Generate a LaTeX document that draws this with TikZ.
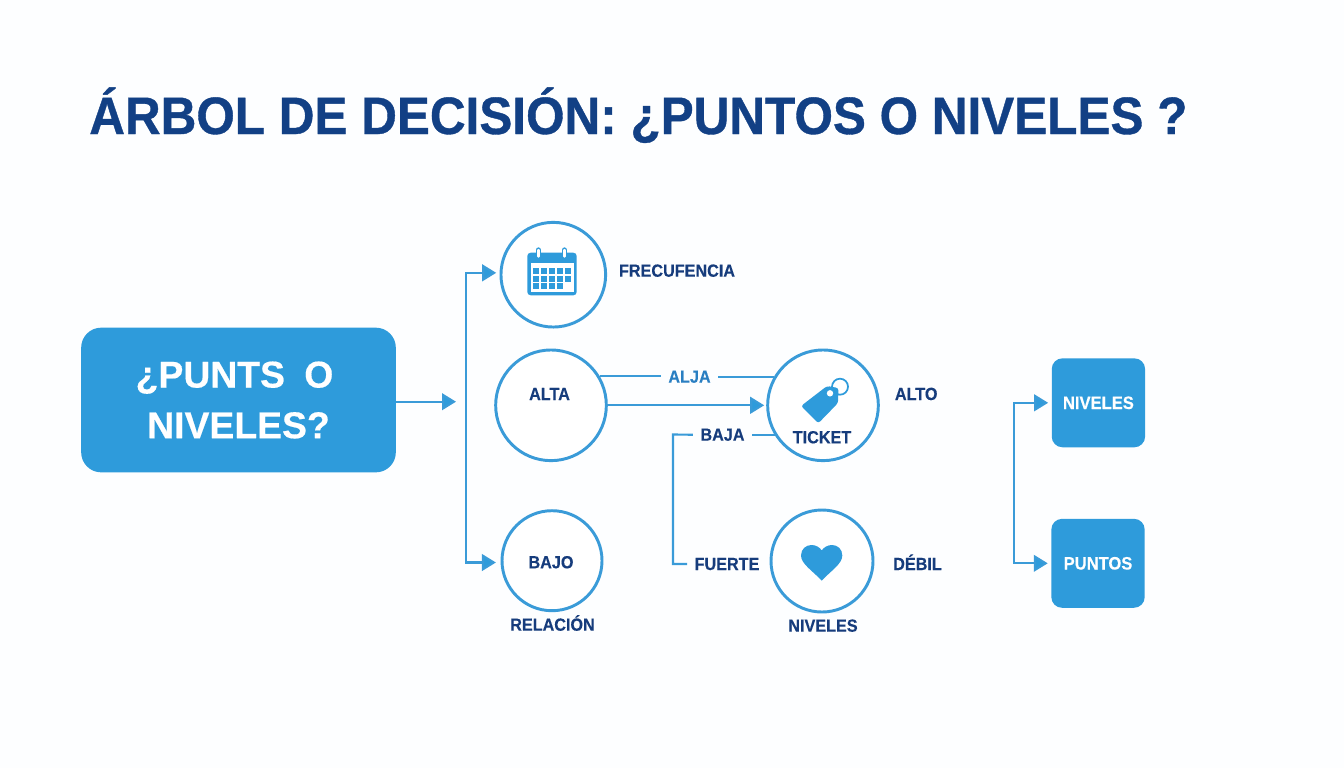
\documentclass[tikz,border=0pt]{standalone}
\usepackage{fontspec}
\setmainfont{Liberation Sans}
\newfontfamily\labfont[FakeStretch=0.92,BoldFeatures={FakeBold=0.25}]{Liberation Sans}
\newfontfamily\titlefont[FakeStretch=0.939,BoldFeatures={FakeBold=0.7}]{Liberation Sans}
\newfontfamily\mainfont[FakeStretch=1.0,BoldFeatures={FakeBold=0.4}]{Liberation Sans}
\usetikzlibrary{arrows.meta}
\definecolor{bluefill}{HTML}{2E9BDB}
\definecolor{blueline}{HTML}{3A9BD8}
\definecolor{navy}{HTML}{163C7C}
\definecolor{titleblue}{HTML}{124085}
\definecolor{midblue}{HTML}{2A7FC2}
\definecolor{paper}{HTML}{FDFEFF}
\tikzset{
  ring/.style={circle,draw=blueline,line width=2.2pt,fill=white,inner sep=0pt},
  lab/.style={font=\labfont\bfseries\fontsize{13.2}{15}\selectfont,text=navy,inner sep=0pt},
  gaplab/.style={lab,inner xsep=5.5pt},
  boxlab/.style={rectangle,rounded corners=8pt,fill=bluefill,inner sep=0pt,
    minimum width=70pt,minimum height=66.7pt,text=white,font=\labfont\bfseries\fontsize{13.5}{15}\selectfont},
  conn/.style={draw=blueline,line width=1.6pt},
  arr/.style={conn,-{Triangle[length=10.5pt,width=12.5pt,fill=bluefill]}},
  icon/.style={fill=bluefill,draw=none}
}
\begin{document}
\begin{tikzpicture}[x=0.75pt,y=-0.75pt]
\useasboundingbox (0,0) rectangle (1344,768);
\fill[paper] (0,0) rectangle (1344,768);

% title
\node[anchor=base west,inner sep=0pt,text=titleblue,font=\titlefont\bfseries\fontsize{39.5}{44}\selectfont] (title) at (89,134) {ÁRBOL DE DECISIÓN: ¿PUNTOS O NIVELES ?};

% main box
\node[rectangle,rounded corners=15pt,fill=bluefill,inner sep=0pt,minimum width=236pt,minimum height=108.5pt,
  text=white,align=center,font=\mainfont\bfseries\fontsize{28}{38}\selectfont] (main) at (238.5,400)
  {¿PUNTS\hspace{6.7pt} O\rule{6pt}{0pt}\\NIVELES?};

% circles
\node[ring,minimum size=78.5pt] (cal) at (553.3,274.7) {};
\node[ring,minimum size=83pt] (alta) at (551,405.3) {};
\node[ring,minimum size=75pt] (bajo) at (552,560.7) {};
\node[ring,minimum size=83pt] (tick) at (823,405.3) {};
\node[ring,minimum size=76.5pt] (cora) at (822,561) {};

% calendar icon
\fill[icon,rounded corners=2.5pt] (527.3,252.7) rectangle (576.7,295.3);
\fill[white] (530.5,262.7) rectangle (573.5,292);
\foreach \cx in {533,541,549,557,565.2}
  \foreach \cy in {268.4,276}
    \fill[icon] (\cx,\cy) rectangle (\cx+6.2,\cy+5.8);
\foreach \cx in {533,541,549,557}
  \fill[icon] (\cx,283.4) rectangle (\cx+6.2,283.4+5.8);
\foreach \cx in {538.3,564.3}{
  \draw[bluefill,line width=4pt,line cap=round] (\cx,250) -- (\cx,256.5);
  \draw[white,line width=1.8pt,line cap=round] (\cx,250) -- (\cx,256.5);
}

% tag icon
\draw[bluefill,line width=1.3pt] (840,386.7) circle[radius=8];
\fill[icon,rounded corners=2pt] (827,386) -- (838.5,388) -- (838,403) -- (818.3,423.3) -- (801,406) -- cycle;
\fill[white] (830,393.3) circle[radius=3.2];

% heart icon
\fill[icon] (821.7,580.7) .. controls (813,571) and (801,564) .. (801,555.5)
  .. controls (801,549) and (806,545) .. (811.5,545)
  .. controls (816,545) and (820,547.5) .. (821.7,550.5)
  .. controls (823.5,547.5) and (827.5,545) .. (832,545)
  .. controls (837.5,545) and (842.3,549) .. (842.3,555.5)
  .. controls (842.3,564) and (830.5,571) .. (821.7,580.7) -- cycle;

% right boxes
\node[boxlab] (niv) at (1098.4,402.8) {NIVELES};
\node[boxlab] (pun) at (1098,563.3) {PUNTOS};

% labels
\node[lab,anchor=base] (lfre) at (677,276.7) {FRECUFENCIA};
\node[lab,anchor=base] (lalta) at (549.5,400) {ALTA};
\node[lab,anchor=base] (lbajo) at (551,568.3) {BAJO};
\node[gaplab,anchor=base,text=midblue] (alja) at (689.5,382.7) {ALJA};
\node[gaplab,anchor=base] (baja) at (722.5,440.7) {BAJA};
\node[lab,anchor=base] (lalto) at (916.2,400) {ALTO};
\node[lab,anchor=base] (ltick) at (822,443.3) {TICKET};
\node[gaplab,anchor=base] (fuerte) at (727,570) {FUERTE};
\node[lab,anchor=base] (debil) at (917.5,570) {DÉBIL};
\node[lab,anchor=base] (lniv) at (823,631.7) {NIVELES};
\node[lab,anchor=base] (lrel) at (552.5,630.7) {RELACIÓN};

% named free ends
\coordinate (tipa) at (456,401.7);
\coordinate (trunk) at (466,402);
\coordinate (spine) at (1014,483);
\coordinate (bend) at (673,434.5);

% connectors
\draw[arr] (main.east |- tipa) -- (tipa);
\draw[arr,shorten >=2.5pt] (trunk) |- (cal.178);
\draw[arr,shorten >=3.5pt] (trunk) |- (bajo.182);
\draw[conn] (alta.31) -- (alta.31 -| alja.west);
\draw[conn] (alja.east) -- (alja.east -| tick.149);
\draw[arr,shorten >=1.5pt] (alta.east) -- (tick.west);
\draw[conn] (tick.212) -- (baja.east |- tick.212);
\draw[conn] (baja.west) -- (bend) |- (fuerte.west);
\draw[arr,shorten >=2.5pt] (spine) |- (niv.west);
\draw[arr,shorten >=2.5pt] (spine) |- (pun.west);
\end{tikzpicture}
\end{document}
